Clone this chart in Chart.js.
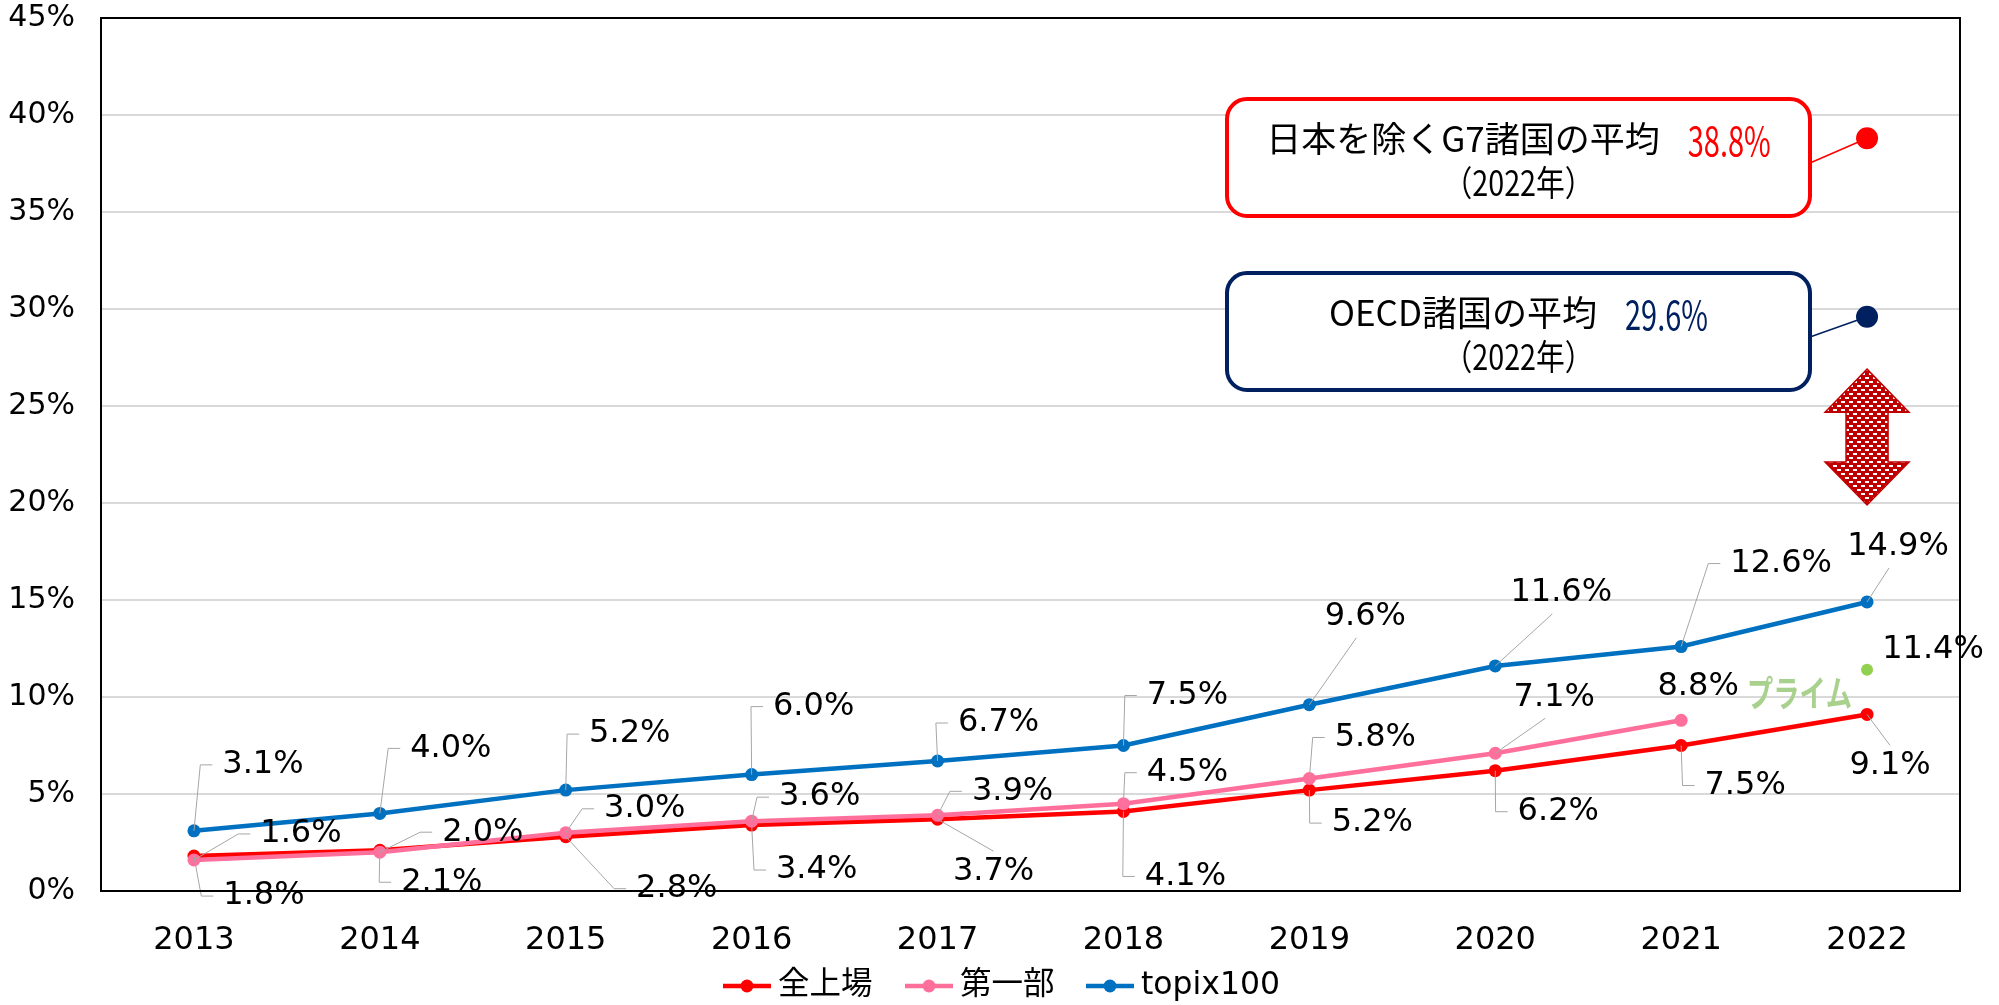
<!DOCTYPE html>
<html>
<head>
<meta charset="utf-8">
<script src="https://cdn.jsdelivr.net/npm/chart.js@4.4.1/dist/chart.umd.min.js"></script>
<style>
  html, body { margin: 0; padding: 0; background: #fff; }
  #wrap { width: 1999px; height: 1005px; }
</style>
</head>
<body>
<div id="wrap"><canvas id="c" width="1999" height="1005"></canvas></div>
<script>
// data
const years = ['2013', '2014', '2015', '2016', '2017', '2018', '2019', '2020', '2021', '2022'];
const allListed = [1.8, 2.1, 2.8, 3.4, 3.7, 4.1, 5.2, 6.2, 7.5, 9.1];      // 全上場
const firstSection = [1.6, 2.0, 3.0, 3.6, 3.9, 4.5, 5.8, 7.1, 8.8, null]; // 第一部
const topix100 = [3.1, 4.0, 5.2, 6.0, 6.7, 7.5, 9.6, 11.6, 12.6, 14.9];
const primeValue = 11.4;   // プライム (2022)
const g7Avg = 38.8;        // 日本を除くG7諸国の平均 (2022)
const oecdAvg = 29.6;      // OECD諸国の平均 (2022)
const yTicks = [0, 5, 10, 15, 20, 25, 30, 35, 40, 45];
const arrowRange = [19.9, 26.9]; // double arrow span on the y scale

// label placement: [dx, dy, leader mode] relative to the point (px)
const topixLabelPos = [[69,-66,'L'],[71,-65,'L'],[64,-56,'L'],[62,-68,'L'],[61,-38,'L'],[64,-50,'L'],[56,-88,'B'],[66,-73,'B'],[100,-83,'L'],[31,-55,'B']];
const allLabelPos = [[70,40,'L'],[62,32,'L'],[111,52,'L'],[65,45,'L'],[56,52,'T'],[62,65,'L'],[63,33,'L'],[63,41,'L'],[64,40,'L'],[23,51,'T']];
const firstLabelPos = [[107,-26,'L'],[103,-20,'L'],[79,-24,'L'],[68,-24,'L'],[75,-24,'L'],[64,-31,'L'],[66,-41,'L'],[59,-56,'B'],[17,-34,'']];
const primeLabelPos = [66, -20, ''];

const qs = s => document.querySelector(s);
const onlyLast = v => years.map((_, i) => i === years.length - 1 ? v : null);

const FONT = '"DejaVu Sans", "Noto Sans CJK JP", sans-serif';
const JP = '"Noto Sans CJK JP", sans-serif';

// dotted (brick) fill for the arrow
function dotPattern() {
  const c = document.createElement('canvas');
  c.width = 8; c.height = 8;
  const x = c.getContext('2d');
  x.fillStyle = '#C00000';
  x.fillRect(0, 0, 8, 8);
  x.fillStyle = '#ffffff';
  x.fillRect(1, 1, 4, 2);
  x.fillRect(5, 5, 3, 2);
  x.fillRect(0, 5, 1, 2);
  return x.createPattern(c, 'repeat');
}

function roundRect(ctx, x, y, w, h, r) {
  ctx.beginPath();
  ctx.moveTo(x + r, y);
  ctx.arcTo(x + w, y, x + w, y + h, r);
  ctx.arcTo(x + w, y + h, x, y + h, r);
  ctx.arcTo(x, y + h, x, y, r);
  ctx.arcTo(x, y, x + w, y, r);
  ctx.closePath();
}

// draws text squeezed to a given width (narrow look of the callout numbers)
function narrowText(ctx, txt, x, y, w) {
  const m = ctx.measureText(txt).width;
  ctx.save();
  ctx.translate(x, y);
  ctx.scale(w / m, 1);
  ctx.fillText(txt, 0, 0);
  ctx.restore();
}

// data labels with leader lines
const labelPlugin = {
  id: 'labels',
  afterDatasetsDraw(chart) {
    const ctx = chart.ctx;
    ctx.save();
    ctx.font = '32px ' + FONT;
    ctx.textAlign = 'center';
    ctx.textBaseline = 'middle';
    const draw = (dsIndex, posList) => {
      const meta = chart.getDatasetMeta(dsIndex);
      meta.data.forEach((pt, i) => {
        const v = chart.data.datasets[dsIndex].data[i];
        if (v == null || !posList[i]) return;
        const [dx, dy, mode] = posList[i];
        const txt = v.toFixed(1) + '%';
        const cx = pt.x + dx, cy = pt.y + dy;
        const w = ctx.measureText(txt).width;
        ctx.strokeStyle = '#A6A6A6';
        ctx.lineWidth = 1;
        ctx.beginPath();
        if (mode === 'L') {
          const left = cx - w / 2;
          ctx.moveTo(pt.x, pt.y);
          ctx.lineTo(left - 22, cy);
          ctx.lineTo(left - 10, cy);
        } else if (mode === 'B') {
          ctx.moveTo(pt.x, pt.y);
          ctx.lineTo(cx - 9, cy + 21);
        } else if (mode === 'T') {
          ctx.moveTo(pt.x, pt.y);
          ctx.lineTo(cx, cy - 20);
        }
        ctx.stroke();
        ctx.fillStyle = '#000';
        ctx.fillText(txt, cx, cy);
      });
    };
    draw(2, topixLabelPos);
    draw(0, allLabelPos);
    draw(1, firstLabelPos);
    draw(3, years.map((_, i) => i === years.length - 1 ? primeLabelPos : null));

    // プライム tag
    const pm = chart.getDatasetMeta(3).data[years.length - 1];
    ctx.font = 'bold 36px ' + JP;
    ctx.fillStyle = '#A9D18E';
    ctx.textAlign = 'left';
    narrowText(ctx, 'プライム', pm.x - 120, pm.y + 23, 105);
    ctx.restore();
  }
};

// G7 / OECD boxes, arrow, legend
const annotPlugin = {
  id: 'annot',
  afterDraw(chart) {
    const ctx = chart.ctx;
    const ys = chart.scales.y;
    const g7pt = chart.getDatasetMeta(4).data[years.length - 1];
    const oePt = chart.getDatasetMeta(5).data[years.length - 1];
    const boxes = [
      { y: 99, color: '#FF0000', main: '日本を除くG7諸国の平均', val: g7Avg, valColor: '#FF0000', pt: g7pt },
      { y: 273, color: '#002060', main: 'OECD諸国の平均', val: oecdAvg, valColor: '#002060', pt: oePt }
    ];
    ctx.save();
    boxes.forEach(b => {
      const bx = 1227, bw = 583, bh = 117;
      ctx.strokeStyle = b.color;
      ctx.lineWidth = 1.5;
      ctx.beginPath();
      ctx.moveTo(bx + bw, b.y + 64);
      ctx.lineTo(b.pt.x, b.pt.y);
      ctx.stroke();
      ctx.fillStyle = '#fff';
      roundRect(ctx, bx, b.y, bw, bh, 20);
      ctx.fill();
      ctx.lineWidth = 4;
      ctx.stroke();
      // line 1
      ctx.textBaseline = 'middle';
      ctx.textAlign = 'left';
      ctx.font = '35px ' + JP;
      const mw = ctx.measureText(b.main).width;
      const vs = b.val.toFixed(1) + '%';
      const vw = 83;
      const gap = 28;
      const x0 = bx + bw / 2 - (mw + gap + vw) / 2;
      ctx.fillStyle = '#000';
      ctx.fillText(b.main, x0, b.y + 40);
      ctx.font = '40px ' + JP;
      ctx.fillStyle = b.valColor;
      narrowText(ctx, vs, x0 + mw + gap, b.y + 42, vw);
      // line 2
      ctx.font = '35px ' + JP;
      ctx.fillStyle = '#000';
      const l2 = '（2022年）';
      const l2w = 150;
      narrowText(ctx, l2, bx + bw / 2 - l2w / 2, b.y + 84, l2w);
    });

    // double arrow
    const ax = g7pt.x;
    const top = ys.getPixelForValue(arrowRange[1]);
    const bot = ys.getPixelForValue(arrowRange[0]);
    const hw = 42, sw = 21, hh = 43;
    ctx.beginPath();
    ctx.moveTo(ax, top);
    ctx.lineTo(ax + hw, top + hh);
    ctx.lineTo(ax + sw, top + hh);
    ctx.lineTo(ax + sw, bot - hh);
    ctx.lineTo(ax + hw, bot - hh);
    ctx.lineTo(ax, bot);
    ctx.lineTo(ax - hw, bot - hh);
    ctx.lineTo(ax - sw, bot - hh);
    ctx.lineTo(ax - sw, top + hh);
    ctx.lineTo(ax - hw, top + hh);
    ctx.closePath();
    ctx.fillStyle = dotPattern();
    ctx.fill();
    ctx.strokeStyle = '#C00000';
    ctx.lineWidth = 1.5;
    ctx.stroke();

    // legend
    const items = [
      { label: '全上場', color: '#FF0000', x: 723 },
      { label: '第一部', color: '#FF6F9C', x: 905 },
      { label: 'topix100', color: '#0070C0', x: 1086 }
    ];
    const ly = 986;
    items.forEach(it => {
      ctx.strokeStyle = it.color;
      ctx.lineWidth = 4.5;
      ctx.beginPath();
      ctx.moveTo(it.x, ly);
      ctx.lineTo(it.x + 48, ly);
      ctx.stroke();
      ctx.fillStyle = it.color;
      ctx.beginPath();
      ctx.arc(it.x + 24, ly, 6.5, 0, Math.PI * 2);
      ctx.fill();
      ctx.fillStyle = '#000';
      ctx.textAlign = 'left';
      ctx.textBaseline = 'middle';
      ctx.font = '31.5px ' + FONT;
      ctx.fillText(it.label, it.x + 55, ly);
    });

    // plot frame
    const a = chart.chartArea;
    ctx.strokeStyle = '#000';
    ctx.lineWidth = 2;
    ctx.strokeRect(a.left, a.top, a.right - a.left, a.bottom - a.top);
    ctx.restore();
  }
};

const lineDs = (label, data, color, order) => ({
  label, data, borderColor: color, backgroundColor: color,
  borderWidth: 4.5, pointRadius: 6.5, pointHoverRadius: 6.5, pointBorderWidth: 0,
  tension: 0, spanGaps: false, order
});

new Chart(qs('#c').getContext('2d'), {
  type: 'line',
  data: {
    labels: years,
    datasets: [
      lineDs('全上場', allListed, '#FF0000', 3),
      lineDs('第一部', firstSection, '#FF6F9C', 2),
      lineDs('topix100', topix100, '#0070C0', 1),
      { label: 'プライム', data: onlyLast(primeValue), showLine: false, pointRadius: 6, pointBorderWidth: 0, backgroundColor: '#92D050', borderColor: '#92D050', order: 0 },
      { label: 'G7', data: onlyLast(g7Avg), showLine: false, pointRadius: 11, pointBorderWidth: 0, backgroundColor: '#FF0000', borderColor: '#FF0000', order: 0 },
      { label: 'OECD', data: onlyLast(oecdAvg), showLine: false, pointRadius: 11, pointBorderWidth: 0, backgroundColor: '#002060', borderColor: '#002060', order: 0 }
    ]
  },
  options: {
    responsive: false,
    animation: false,
    layout: { padding: { top: 18, right: 39, left: 0, bottom: 0 } },
    plugins: { legend: { display: false }, tooltip: { enabled: false } },
    scales: {
      x: {
        offset: true,
        grid: { display: false },
        border: { color: '#000', width: 2 },
        ticks: { color: '#000', font: { size: 32, family: FONT }, padding: 22, maxRotation: 0 },
        afterFit: s => { s.height = 114; s.paddingLeft = 0; s.paddingRight = 0; }
      },
      y: {
        min: 0, max: 45,
        afterBuildTicks: s => { s.ticks = yTicks.map(v => ({ value: v })); },
        grid: { color: '#D9D9D9', lineWidth: 2, drawTicks: false },
        border: { color: '#000', width: 2 },
        ticks: { color: '#000', font: { size: 30, family: FONT }, padding: 26, callback: v => v + '%' },
        afterFit: s => { s.width = 101; s.paddingTop = 0; s.paddingBottom = 0; }
      }
    }
  },
  plugins: [labelPlugin, annotPlugin]
});
</script>
</body>
</html>
